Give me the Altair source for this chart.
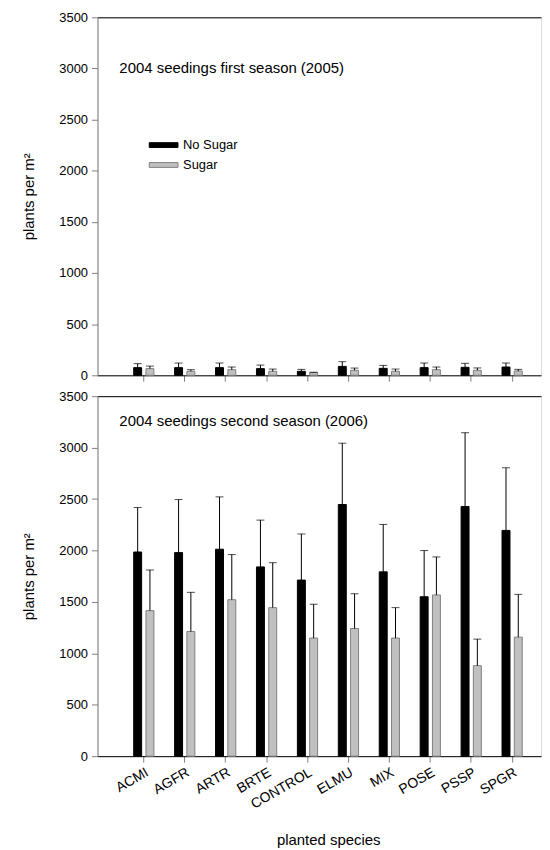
import altair as alt
import pandas as pd

FONT = "Liberation Sans"

categories = ["ACMI", "AGFR", "ARTR", "BRTE", "CONTROL", "ELMU", "MIX", "POSE", "PSSP", "SPGR"]
groups = ["No Sugar", "Sugar"]

# 2004 seedings, first season (2005)
y2005_nosugar = [75, 75, 75, 65, 39, 87, 68, 75, 78, 81]
y2005_nosugar_upper = [114, 120, 120, 100, 58, 133, 97, 120, 117, 120]
y2005_sugar = [65, 39, 55, 39, 26, 49, 39, 55, 49, 42]
y2005_sugar_upper = [90, 55, 81, 61, 30, 71, 61, 81, 72, 58]

# 2004 seedings, second season (2006)
y2006_nosugar = [1985, 1979, 2012, 1840, 1712, 2447, 1792, 1550, 2427, 2195]
y2006_nosugar_upper = [2418, 2495, 2521, 2295, 2160, 3043, 2253, 1999, 3145, 2804]
y2006_sugar = [1415, 1212, 1521, 1444, 1148, 1241, 1148, 1567, 880, 1157]
y2006_sugar_upper = [1810, 1593, 1960, 1881, 1477, 1579, 1444, 1937, 1138, 1573]

y_ticks = [0, 500, 1000, 1500, 2000, 2500, 3000, 3500]


def make_df(ns, ns_up, s, s_up):
    rows = []
    for i, c in enumerate(categories):
        rows.append({"cat": c, "idx": i + 1, "group": groups[0], "value": ns[i], "upper": ns_up[i]})
        rows.append({"cat": c, "idx": i + 1, "group": groups[1], "value": s[i], "upper": s_up[i]})
    return pd.DataFrame(rows)


label_expr = "[" + ",".join("'%s'" % c for c in categories) + "][datum.value - 1]"
xscale = alt.Scale(domain=[0, 10.594], nice=False, zero=False)
yscale = alt.Scale(domain=[0, 3500], nice=False)


def panel(df, title, bottom, show_legend, height, title_dy):
    base = alt.Chart(df).transform_calculate(
        xpos="datum.idx + (datum.group == 'No Sugar' ? -0.14 : 0.16)"
    )
    if bottom:
        xaxis = alt.Axis(values=list(range(1, 11)), labelExpr=label_expr, labelAngle=330,
                         labelFontSize=14, labelFont=FONT, labelColor="black", labelPadding=3,
                         labelOverlap=False, labelBound=False,
                         tickSize=6, tickColor="#808080", domainColor="black", grid=False,
                         title="planted species", titleFontSize=15, titleFont=FONT,
                         titleFontWeight=400, titleColor="black", titlePadding=21, titleX=232)
    else:
        xaxis = alt.Axis(values=list(range(1, 11)), labels=False, tickSize=6, tickColor="#808080",
                         domainColor="black", grid=False, title=None)
    yaxis = alt.Axis(values=y_ticks, format="d", tickSize=6, tickColor="#808080",
                     domainColor="#808080", labelFontSize=13, labelFont=FONT, labelColor="black",
                     labelPadding=4, grid=False, title="plants per m²", titleFontSize=15,
                     titleFont=FONT, titleFontWeight=400, titleColor="black", titlePadding=22)
    if show_legend:
        leg = alt.Legend(orient="none", legendX=60, legendY=122, title=None,
                         symbolType="M-3,-0.5H3V0.5H-3Z", symbolSize=93, symbolStrokeWidth=1,
                         labelFontSize=13, labelFont=FONT, labelColor="black", labelOffset=13,
                         rowPadding=6, padding=0)
    else:
        leg = None
    bars = base.mark_bar(size=8, strokeWidth=1).encode(
        x=alt.X("xpos:Q", scale=xscale, axis=xaxis),
        y=alt.Y("value:Q", scale=yscale, axis=yaxis),
        fill=alt.Fill("group:N", scale=alt.Scale(domain=groups, range=["black", "#c0c0c0"]), legend=leg),
        stroke=alt.Stroke("group:N", scale=alt.Scale(domain=groups, range=["black", "#808080"]), legend=leg),
    )
    rules = base.mark_rule(color="black", strokeWidth=1).encode(
        x=alt.X("xpos:Q", scale=xscale, axis=None),
        y=alt.Y("value:Q", scale=yscale, axis=None),
        y2="upper:Q",
    )
    caps = base.mark_tick(orient="horizontal", size=8, thickness=1, color="black").encode(
        x=alt.X("xpos:Q", scale=xscale,
                axis=alt.Axis(orient="top", labels=False, ticks=False, title=None,
                              domainColor="black", grid=False)),
        y=alt.Y("upper:Q", scale=yscale, axis=None),
    )
    return alt.layer(bars, rules, caps).resolve_axis(x="independent", y="independent").properties(
        width=446, height=height,
        title=alt.TitleParams(title, anchor="start", frame="group", orient="top", offset=0,
                              dx=22, dy=title_dy, baseline="alphabetic", fontSize=15, font=FONT,
                              fontWeight=400, color="black"),
    )


top = panel(make_df(y2005_nosugar, y2005_nosugar_upper, y2005_sugar, y2005_sugar_upper),
            "2004 seedings first season (2005)", False, True, 360, 77)
bottom = panel(make_df(y2006_nosugar, y2006_nosugar_upper, y2006_sugar, y2006_sugar_upper),
               "2004 seedings second season (2006)", True, False, 362, 51)

chart = alt.vconcat(top, bottom, spacing=6).resolve_scale(
    fill="independent", stroke="independent"
).resolve_legend(fill="independent", stroke="independent").properties(
    padding={"left": 13, "top": 0, "right": 0, "bottom": 0}
).configure_view(stroke=None).configure(font=FONT)

chart.save("out.html", embed_options={"renderer": "svg", "actions": False})
